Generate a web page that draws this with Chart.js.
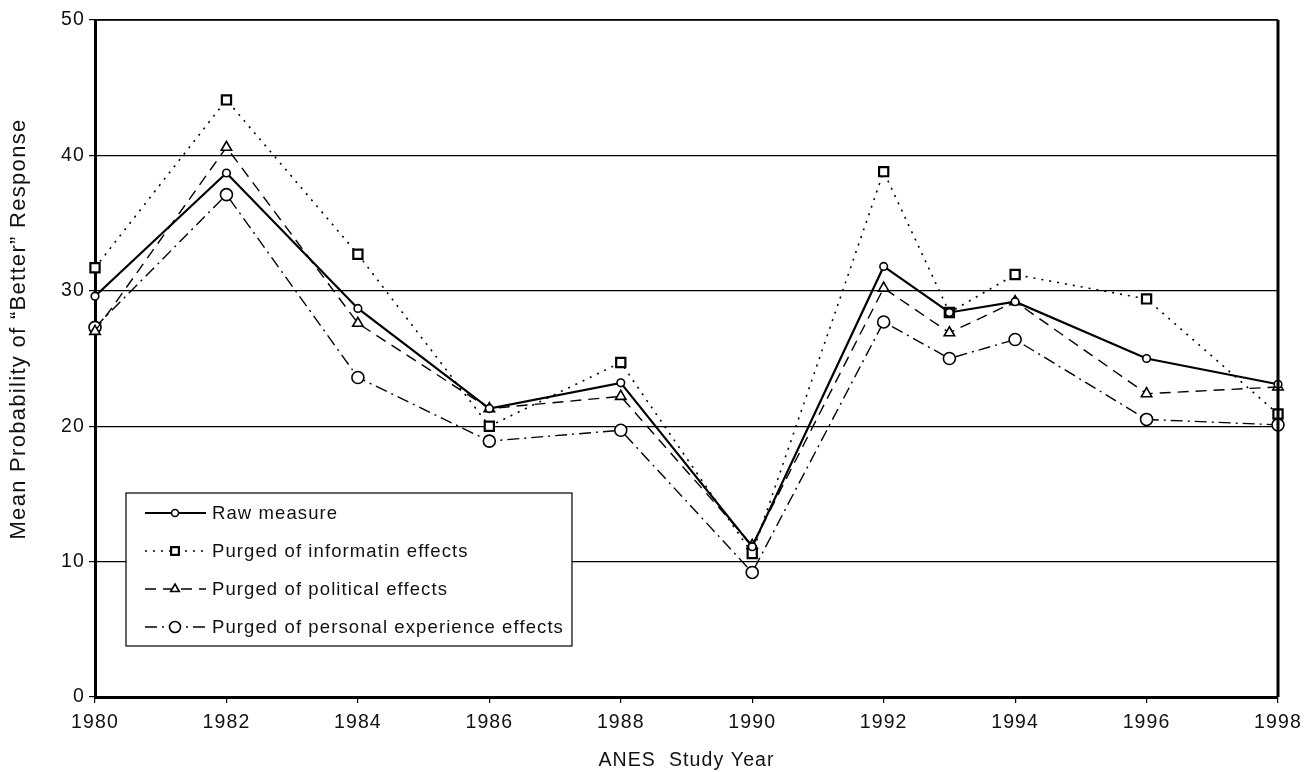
<!DOCTYPE html>
<html lang="en">
<head>
<meta charset="UTF-8">
<title>Mean Probability of Better Response</title>
<style>
  body { margin: 0; padding: 0; background: #fff; }
  #wrap { width: 1304px; height: 772px; }
</style>
</head>
<body>
<div id="wrap"><canvas id="chart" width="1304" height="772"></canvas></div>
<script src="https://cdn.jsdelivr.net/npm/chart.js"></script>
<script>
// study years (x positions are real years on a linear axis)
var years = [1980, 1982, 1984, 1986, 1988, 1990, 1992, 1993, 1994, 1996, 1998];
var tickYears = [1980, 1982, 1984, 1986, 1988, 1990, 1992, 1994, 1996, 1998];
var yTicks = [0, 10, 20, 30, 40, 50];

var rawMeasure = [29.6, 38.7, 28.7, 21.3, 23.2, 11.1, 31.8, 28.4, 29.2, 25.0, 23.1];
var purgedInfo = [31.7, 44.1, 32.7, 20.0, 24.7, 10.6, 38.8, 28.4, 31.2, 29.4, 20.9];
var purgedPolitical = [27.0, 40.6, 27.6, 21.3, 22.2, 11.2, 30.2, 26.9, 29.2, 22.4, 22.9];
var purgedPersonal = [27.3, 37.1, 23.6, 18.9, 19.7, 9.2, 27.7, 25.0, 26.4, 20.5, 20.1];

var seriesLabels = [
    'Raw measure',
    'Purged of informatin effects',
    'Purged of political effects',
    'Purged of personal experience effects'
];
var yTitle = 'Mean Probability of \u201cBetter\u201d Response';

var FONT = 'Liberation Sans, Arial, sans-serif';

function pts(arr) {
    return years.map(function (yr, i) { return { x: yr, y: arr[i] }; });
}

// the scanned lettering is a bit wider than Liberation Sans
var spacing = {
    id: 'spacing',
    beforeDraw: function (chart) { chart.ctx.letterSpacing = '1.1px'; }
};

// top and right frame lines, plus the y title (sits above the plot centre)
var framePlugin = {
    id: 'frame',
    afterDraw: function (chart) {
        var a = chart.chartArea, ctx = chart.ctx;
        ctx.save();
        ctx.strokeStyle = '#000';
        ctx.lineWidth = 1.5;
        ctx.beginPath();
        ctx.moveTo(a.left, a.top);
        ctx.lineTo(a.right, a.top);
        ctx.stroke();
        ctx.lineWidth = 3;
        ctx.beginPath();
        ctx.moveTo(a.right, a.top);
        ctx.lineTo(a.right, a.bottom);
        ctx.stroke();

        ctx.translate(19, 329);
        ctx.rotate(-Math.PI / 2);
        ctx.letterSpacing = '1.3px';
        ctx.font = '22px ' + FONT;
        ctx.fillStyle = '#111';
        ctx.textAlign = 'center';
        ctx.textBaseline = 'middle';
        ctx.fillText(yTitle, 0, 0);
        ctx.restore();
    }
};

// boxed legend sitting inside the plot
var legendBox = {
    id: 'legendBox',
    afterDraw: function (chart) {
        var ctx = chart.ctx;
        ctx.save();
        ctx.font = '18.5px ' + FONT;
        var widest = 0;
        chart.data.datasets.forEach(function (ds) {
            widest = Math.max(widest, ctx.measureText(ds.label).width);
        });
        var x0 = 126, y0 = 493, w = 212 - x0 + widest + 8, h = 153;
        ctx.fillStyle = '#fff';
        ctx.fillRect(x0, y0, w, h);
        ctx.strokeStyle = '#000';
        ctx.lineWidth = 1.2;
        ctx.strokeRect(x0, y0, w, h);
        chart.data.datasets.forEach(function (ds, i) {
            var cy = 513 + i * 38;
            ctx.strokeStyle = '#000';
            ctx.lineWidth = ds.borderWidth;
            ctx.setLineDash(ds.borderDash || []);
            ctx.beginPath();
            ctx.moveTo(145, cy);
            ctx.lineTo(206, cy);
            ctx.stroke();
            ctx.setLineDash([]);
            ctx.fillStyle = '#fff';
            ctx.strokeStyle = '#000';
            ctx.lineWidth = ds.pointBorderWidth;
            Chart.helpers.drawPoint(ctx, {
                pointStyle: ds.pointStyle,
                rotation: 0,
                radius: ds.legendRadius,
                borderWidth: ds.pointBorderWidth
            }, 175, cy);
            ctx.fillStyle = '#111';
            ctx.font = '18.5px ' + FONT;
            ctx.textBaseline = 'middle';
            ctx.textAlign = 'left';
            ctx.fillText(ds.label, 212, cy + 1);
        });
        ctx.restore();
    }
};

var ctx = document.getElementById('chart').getContext('2d');
var chart = new Chart(ctx, {
    type: 'line',
    data: {
        datasets: [{
            label: seriesLabels[0],
            data: pts(rawMeasure),
            borderColor: '#000',
            borderWidth: 2.2,
            pointStyle: 'circle',
            pointRadius: 3.8,
            legendRadius: 3.5,
            pointBorderWidth: 1.6,
            pointBackgroundColor: '#fff',
            pointBorderColor: '#000',
            clip: false,
            order: 1
        }, {
            label: seriesLabels[1],
            data: pts(purgedInfo),
            borderColor: '#000',
            borderWidth: 1.6,
            borderDash: [2, 6],
            pointStyle: 'rect',
            pointRadius: 6.5,
            legendRadius: 5.5,
            pointBorderWidth: 2.2,
            pointBackgroundColor: '#fff',
            pointBorderColor: '#000',
            clip: false,
            order: 2
        }, {
            label: seriesLabels[2],
            data: pts(purgedPolitical),
            borderColor: '#000',
            borderWidth: 1.4,
            borderDash: [11, 7],
            pointStyle: 'triangle',
            pointRadius: 6,
            legendRadius: 5,
            pointBorderWidth: 1.6,
            pointBackgroundColor: '#fff',
            pointBorderColor: '#000',
            clip: false,
            order: 3
        }, {
            label: seriesLabels[3],
            data: pts(purgedPersonal),
            borderColor: '#000',
            borderWidth: 1.4,
            borderDash: [12, 5, 2, 5],
            pointStyle: 'circle',
            pointRadius: 6,
            legendRadius: 5.5,
            pointBorderWidth: 1.6,
            pointBackgroundColor: '#fff',
            pointBorderColor: '#000',
            clip: false,
            order: 4
        }]
    },
    options: {
        responsive: false,
        animation: false,
        devicePixelRatio: 1,
        layout: { padding: { left: 0, right: 26, top: 20, bottom: 0 } },
        plugins: {
            legend: { display: false },
            tooltip: { enabled: false }
        },
        scales: {
            x: {
                type: 'linear',
                min: 1980,
                max: 1998,
                afterBuildTicks: function (scale) {
                    scale.ticks = tickYears.map(function (v) { return { value: v }; });
                },
                afterFit: function (scale) {
                    scale.height = 75;
                    scale.paddingLeft = 0;
                    scale.paddingRight = 0;
                },
                grid: {
                    drawOnChartArea: false,
                    drawTicks: true,
                    tickLength: 6,
                    color: '#000',
                    lineWidth: 1.2
                },
                border: { display: true, color: '#000', width: 3 },
                ticks: {
                    padding: 8,
                    color: '#111',
                    font: { family: FONT, size: 19.5 },
                    maxRotation: 0,
                    autoSkip: false,
                    callback: function (v) { return String(v); }
                },
                title: {
                    display: true,
                    text: 'ANES  Study Year',
                    color: '#111',
                    font: { family: FONT, size: 19.5 },
                    padding: { top: 0, bottom: 0 }
                }
            },
            y: {
                min: 0,
                max: 50,
                afterBuildTicks: function (scale) {
                    scale.ticks = yTicks.map(function (v) { return { value: v }; });
                },
                afterFit: function (scale) { scale.width = 95; },
                grid: {
                    color: '#000',
                    lineWidth: 1.2,
                    drawTicks: true,
                    tickLength: 6
                },
                border: { display: true, color: '#000', width: 3 },
                ticks: {
                    padding: 4,
                    color: '#111',
                    font: { family: FONT, size: 19.5 }
                },
                title: { display: false }
            }
        }
    },
    plugins: [spacing, framePlugin, legendBox]
});
</script>
</body>
</html>
